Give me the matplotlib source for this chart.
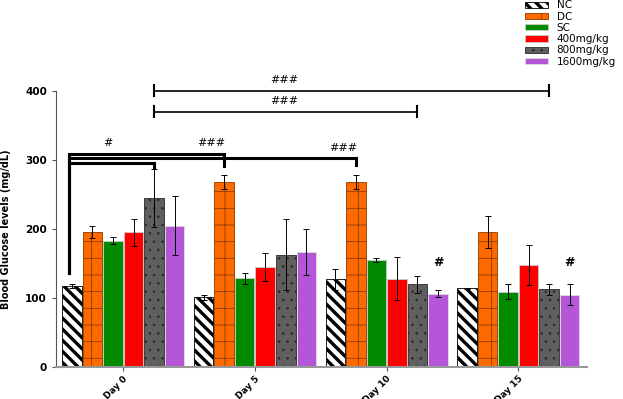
import numpy as np
import matplotlib
matplotlib.use("Agg")
import matplotlib.pyplot as plt

days = ["Day 0", "Day 5", "Day 10", "Day 15"]
groups = ["NC", "DC", "SC", "400mg/kg", "800mg/kg", "1600mg/kg"]

nc = [118, 101, 127, 114]
dc = [196, 268, 268, 196]
sc = [183, 129, 155, 109]
d400 = [195, 145, 128, 148]
d800 = [245, 163, 120, 113]
d1600 = [205, 167, 106, 105]

nc_err = [3, 4, 15, 1]
dc_err = [9, 10, 10, 23]
sc_err = [5, 8, 3, 11]
d400_err = [20, 20, 31, 29]
d800_err = [42, 52, 12, 8]
d1600_err = [43, 33, 5, 15]

values = [nc, dc, sc, d400, d800, d1600]
errors = [nc_err, dc_err, sc_err, d400_err, d800_err, d1600_err]

styles = [
    dict(color="white", edgecolor="black", hatch="\\\\\\", hlw=2.4),
    dict(color="#FF6A00", edgecolor="#8A3800", hatch="+", hlw=0.6),
    dict(color="#008A00", edgecolor="#cccccc", hatch=None, hlw=1),
    dict(color="#FF0000", edgecolor="#cccccc", hatch=None, hlw=1),
    dict(color="#5F5F5F", edgecolor="#2A2A2A", hatch="..", hlw=0.6),
    dict(color="#B556D8", edgecolor="#dddddd", hatch=None, hlw=1),
]


def with_hatch_lw(artist, lw):
    # make the hatch line width apply to this artist only
    if hasattr(artist, "set_hatch_linewidth"):
        artist.set_hatch_linewidth(lw)
    orig = artist.draw

    def draw(renderer, _orig=orig, _lw=lw):
        with matplotlib.rc_context({"hatch.linewidth": _lw}):
            _orig(renderer)
    artist.draw = draw


fig = plt.figure(figsize=(6.23, 3.99), dpi=100)
ax = fig.add_axes([0.09, 0.08, 0.852, 0.692])

x = np.arange(len(days))
step = 0.156
width = 0.148
offsets = (np.arange(6) - 2.5) * step

handles = []
for i, (vals, errs, st) in enumerate(zip(values, errors, styles)):
    bars = ax.bar(x + offsets[i], vals, width, color=st["color"],
                  edgecolor=st["edgecolor"], hatch=st["hatch"], linewidth=0.6,
                  label=groups[i], zorder=2)
    for b in bars:
        with_hatch_lw(b, st["hlw"])
    ax.errorbar(x + offsets[i], vals, yerr=errs, fmt="none", ecolor="black",
                elinewidth=0.7, capsize=2.5, capthick=0.7, zorder=3)
    handles.append(bars[0])

ax.set_xlim(-0.51, 3.52)
ax.set_ylim(0, 400)
ax.set_yticks([0, 100, 200, 300, 400])
ax.set_xticks(x)
ax.set_xticklabels(days, rotation=45, ha="right", rotation_mode="anchor",
                   fontsize=6.5, fontweight="bold")
for lab in ax.get_yticklabels():
    lab.set_fontsize(7.5)
    lab.set_fontweight("bold")
ax.set_ylabel("Blood Glucose levels (mg/dL)", fontsize=7, fontweight="bold",
              labelpad=10)
ax.spines["top"].set_visible(False)
ax.spines["right"].set_visible(False)
ax.spines["left"].set_color("#555555")
ax.spines["bottom"].set_color("#999999")
ax.spines["bottom"].set_linewidth(1.5)
ax.tick_params(axis="both", length=3, color="#555555")
ax.tick_params(axis="x", pad=2)

# thin long brackets from Day 0 800mg/kg
x0 = x[0] + offsets[4]
for xe, lvl in [(x[3] + offsets[4], 400), (x[2] + offsets[4], 370)]:
    ax.plot([x0, xe], [lvl, lvl], color="black", lw=1.2, clip_on=False)
    ax.plot([x0, x0], [lvl - 8, lvl + 8], color="black", lw=1.5, clip_on=False)
    ax.plot([xe, xe], [lvl - 8, lvl + 8], color="black", lw=1.5, clip_on=False)
    ax.text(1.22, lvl + 8, "###", fontsize=8, ha="center", va="bottom")

# thick brackets from Day 0 NC
xs = x[0] + offsets[0] - 0.025
brackets = [
    (x[1] + offsets[1], 309, 292, "###", 0.67, 318),
    (x[2] + offsets[1], 303, 293, "###", 1.67, 310),
    (x[0] + offsets[4], 296, 290, "#", -0.12, 318),
]
for xe, lvl, drop, txt, tx, ty in brackets:
    ax.plot([xs, xs, xe, xe], [137, lvl, lvl, drop], color="black", lw=2.2,
            solid_joinstyle="miter", zorder=4)
    ax.text(tx, ty, txt, fontsize=8, ha="center", va="bottom")

for xi in [x[2] + offsets[5], x[3] + offsets[5]]:
    ax.text(xi, 142, "#", fontsize=9, fontweight="bold", ha="center", va="bottom")

leg = fig.legend(handles, groups, loc="upper left", bbox_to_anchor=(0.835, 1.012),
                 frameon=False, fontsize=7.5, labelspacing=0.12, handlelength=2.2,
                 handleheight=0.55, handletextpad=0.8, borderpad=0)
for h, st in zip(leg.legend_handles, styles):
    with_hatch_lw(h, st["hlw"])

fig.savefig("out.png", dpi=100)
